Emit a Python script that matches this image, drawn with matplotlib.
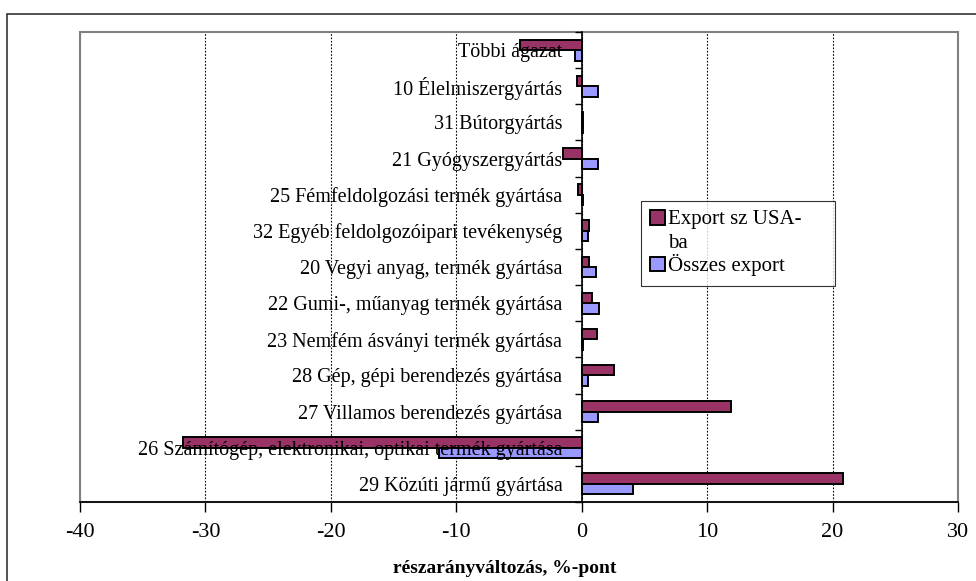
import numpy as np
import matplotlib.pyplot as plt
from matplotlib.patches import Rectangle

plt.rcParams['font.family'] = ['Liberation Serif', 'DejaVu Serif']

# ágazatok, felülről lefelé
categories = [
    'Többi ágazat',
    '10 Élelmiszergyártás',
    '31 Bútorgyártás',
    '21 Gyógyszergyártás',
    '25 Fémfeldolgozási termék gyártása',
    '32 Egyéb feldolgozóipari tevékenység',
    '20 Vegyi anyag, termék gyártása',
    '22 Gumi-, műanyag termék gyártása',
    '23 Nemfém ásványi termék gyártása',
    '28 Gép, gépi berendezés gyártása',
    '27 Villamos berendezés gyártása',
    '26 Számítógép, elektronikai, optikai termék gyártása',
    '29 Közúti jármű gyártása',
]
export_usa = [-4.9, -0.4, 0.1, -1.5, -0.3, 0.6, 0.55, 0.85, 1.2, 2.6, 11.9, -31.8, 20.85]
export_total = [-0.5, 1.3, 0.1, 1.3, 0.1, 0.5, 1.1, 1.4, 0.1, 0.5, 1.3, -11.4, 4.05]
series_names = ['Export sz USA-\nba', 'Összes export']
xticks = [-40, -30, -20, -10, 0, 10, 20, 30]

fig = plt.figure(figsize=(9.76, 5.81), dpi=100)
ax = fig.add_axes([80 / 976, 1 - 502 / 581, 878 / 976, 470 / 581])

y = np.arange(len(categories))
h = 0.29
ax.barh(y - h / 2, export_usa, height=h, color='#993366', edgecolor='black',
        linewidth=1.4, label=series_names[0], zorder=2)
ax.barh(y + h / 2, export_total, height=h, color='#9999FF', edgecolor='black',
        linewidth=1.4, label=series_names[1], zorder=2)

ax.set_xlim(-40, 30)
ax.set_ylim(len(categories) - 0.5, -0.5)
ax.set_xticks(xticks)
ax.set_xticklabels([str(t) for t in xticks], fontsize=16)
ax.tick_params(axis='x', direction='out', length=7, width=1, pad=8)

# kategóriafeliratok a nulla tengelynél
ax.spines['left'].set_position(('data', 0))
ax.spines['left'].set_linewidth(1.2)
ax.set_yticks(y)
ax.set_yticklabels(categories, fontsize=14.5)
ax.set_yticks(np.arange(len(categories) + 1) - 0.5, minor=True)
ax.tick_params(axis='y', which='major', length=0, pad=14)
ax.tick_params(axis='y', which='minor', direction='out', length=5, width=1)

ax.grid(axis='x', color='black', linestyle=(0, (1.5, 1.5)), linewidth=0.8)
ax.xaxis.set_zorder(0.5)
ax.yaxis.set_zorder(3)

for s in ['top', 'right']:
    ax.spines[s].set_visible(False)
ax.spines['bottom'].set_linewidth(1.2)
ax.add_patch(Rectangle((0, 0), 1, 1, transform=ax.transAxes, fill=False,
                       edgecolor='#808080', linewidth=1.5, clip_on=False, zorder=0.6))

ax.set_xlabel('részarányváltozás, %-pont', fontsize=14, fontweight='bold')
ax.xaxis.set_label_coords((505 - 80) / 878, (502 - 560) / 470)

leg = ax.legend(loc='upper left',
                bbox_to_anchor=(641 / 976, 1 - 281 / 581, 194 / 976, 80 / 581),
                bbox_transform=fig.transFigure, mode='expand', fontsize=15,
                frameon=True, fancybox=False, edgecolor='black', borderaxespad=0,
                handlelength=0.7, handleheight=0.7, handletextpad=0.15,
                borderpad=0.45, labelspacing=0.05)
leg.get_frame().set_linewidth(0.8)
for t in leg.get_texts():
    t.set_linespacing(1.35)
# a kétsoros felirat jelét az első sorhoz igazítjuk
first = leg.legend_handles[0]
first.set_y(first.get_y() + 10)

# külső keret
fig.add_artist(Rectangle((7 / 976, -0.1), 1.2, 1 - 14 / 581 + 0.1, transform=fig.transFigure,
                         fill=False, edgecolor='#333333', linewidth=1.2))

fig.savefig('out.png', dpi=100)
